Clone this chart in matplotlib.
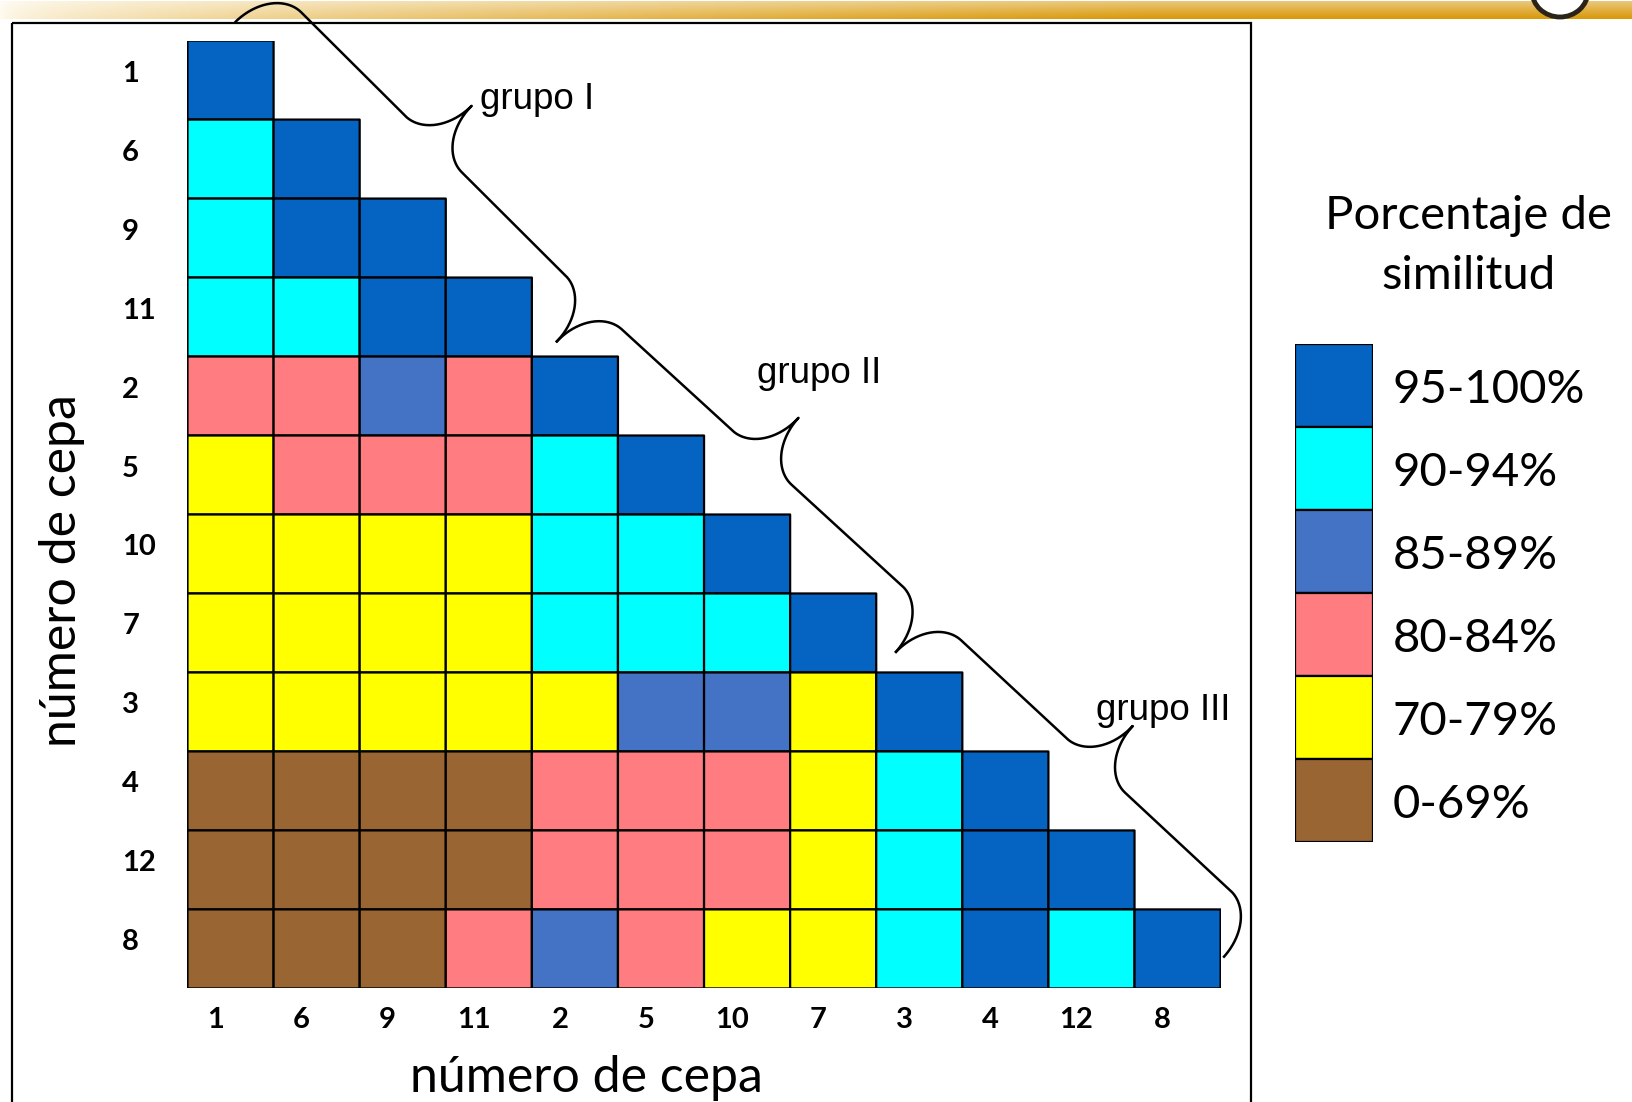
import matplotlib

matplotlib.use("Agg")

import matplotlib.pyplot as plt
import numpy as np
from matplotlib.colors import BoundaryNorm, ListedColormap
from matplotlib.patches import Ellipse, Rectangle
from matplotlib.transforms import ScaledTranslation

# strain order on both axes
strains = ["1", "6", "9", "11", "2", "5", "10", "7", "3", "4", "12", "8"]

# similarity classes, lowest to highest
classes = ["0-69%", "70-79%", "80-84%", "85-89%", "90-94%", "95-100%"]
class_colors = ["#996633", "#FFFF00", "#FF7C80", "#4472C4", "#00FFFF", "#0563C1"]

# class index per cell, lower triangle, one list per row
rows = [
    [5],
    [4, 5],
    [4, 5, 5],
    [4, 4, 5, 5],
    [2, 2, 3, 2, 5],
    [1, 2, 2, 2, 4, 5],
    [1, 1, 1, 1, 4, 4, 5],
    [1, 1, 1, 1, 4, 4, 4, 5],
    [1, 1, 1, 1, 1, 3, 3, 1, 5],
    [0, 0, 0, 0, 2, 2, 2, 1, 4, 5],
    [0, 0, 0, 0, 2, 2, 2, 1, 4, 5, 5],
    [0, 0, 0, 2, 3, 2, 1, 1, 4, 5, 4, 5],
]

# groups along the diagonal: label, first and last strain index
groups = [("grupo I", 0, 3), ("grupo II", 4, 7), ("grupo III", 8, 11)]

W, H = 1633, 1102
fig = plt.figure(figsize=(W / 100, H / 100), dpi=100)
fig.patch.set_facecolor("white")

n = len(strains)
mat = np.full((n, n), np.nan)
for i, r in enumerate(rows):
    mat[i, : len(r)] = r
mat = np.ma.masked_invalid(mat)

cmap = ListedColormap(class_colors)
norm = BoundaryNorm(np.arange(len(classes) + 1) - 0.5, cmap.N)

ax = fig.add_axes([187.5 / W, 1 - 988.4 / H, 1033.1 / W, 947.8 / H])
ax.pcolor(np.arange(n + 1), np.arange(n + 1), mat, cmap=cmap, norm=norm,
          edgecolors="black", linewidth=1.6)
ax.set_xlim(0, n)
ax.set_ylim(n, 0)
for s in ax.spines.values():
    s.set_visible(False)

tick_font = dict(family="Lato", weight="bold", size=21)
ax.set_xticks(np.arange(n) + 0.5)
ax.set_xticklabels(strains, **tick_font)
ax.set_yticks(np.arange(n) + 0.5)
ax.set_yticklabels(strains, ha="left", **tick_font)
ax.tick_params(axis="both", length=0)
ax.tick_params(axis="x", pad=13.5)
ax.tick_params(axis="y", pad=47)
for lbl in ax.get_xticklabels():
    lbl.set_transform(lbl.get_transform() + ScaledTranslation(-0.15, 0, fig.dpi_scale_trans))
for lbl in ax.get_yticklabels():
    lbl.set_transform(lbl.get_transform() + ScaledTranslation(0, 0.09, fig.dpi_scale_trans))

fig.text(586 / W, 1 - 1078 / H, "número de cepa", family="Lato", size=36,
         ha="center", va="center")
fig.text(62.5 / W, 1 - 571 / H, "número de cepa", family="Lato", size=36,
         ha="center", va="center", rotation=90)

# legend column
lax = fig.add_axes([1295 / W, 1 - 842 / H, 78 / W, 498 / H])
codes = np.arange(len(classes))[::-1][:, None]
lax.pcolor(np.arange(2), np.arange(len(classes) + 1), codes, cmap=cmap, norm=norm,
           edgecolors="black", linewidth=1.6)
lax.set_xlim(0, 1)
lax.set_ylim(len(classes), 0)
lax.axis("off")
for i, c in enumerate(codes[:, 0]):
    lax.text(1.25, i + 0.56, classes[c], family="Lato", size=34, ha="left", va="center")
fig.text(1469 / W, 1 - 246 / H, "Porcentaje de\nsimilitud", family="Lato", size=34,
         ha="center", va="center", linespacing=1.55)

# overlay in pixel coordinates for frame, banner and braces
ov = fig.add_axes([0, 0, 1, 1], zorder=5)
ov.axis("off")
ov.patch.set_alpha(0)

xs = np.linspace(0, 1, 500)
t = np.clip(xs / 0.7, 0, 1) ** 0.6
c0 = np.array([1.0, 0.98, 0.93])
c1 = np.array([0.85, 0.60, 0.04])
band = c0 + (c1 - c0) * t[:, None]
shade = np.linspace(0.55, 1.0, 16)[:, None, None]
band2d = np.clip(1 - (1 - band[None, :, :]) * shade, 0, 1)
ov.imshow(band2d, extent=(0, W, 19, 1), aspect="auto", interpolation="bilinear")
ov.add_patch(Ellipse((1560, -9), 56, 52, facecolor="white", edgecolor="#2a2418", lw=3.5))
ov.set_xlim(0, W)
ov.set_ylim(H, 0)

ov.add_patch(Rectangle((12.5, 23), 1251 - 12.5, 1200, fill=False, edgecolor="black", lw=1.6))


def to_px(x, y):
    p = ax.transData.transform((x, y))
    return ov.transData.inverted().transform(p)


def brace(p0, p1, h=54, r=40, npts=60):
    # curly brace from p0 to p1, bulging to the upper right (pixel space, y down)
    p0, p1 = np.asarray(p0), np.asarray(p1)
    d = p1 - p0
    L = np.hypot(*d)
    u = d / L
    nrm = np.array([u[1], -u[0]])
    th = np.linspace(0, np.pi / 2, npts)
    s_end = r - r * np.cos(th)
    y_end = h * np.sin(th)
    s_tip = L / 2 - r + r * np.sin(th)
    y_tip = 2 * h - h * np.cos(th)
    s_half = np.concatenate([s_end, s_tip])
    y_half = np.concatenate([y_end, y_tip])
    s_full = np.concatenate([s_half, L - s_half[::-1]])
    y_full = np.concatenate([y_half, y_half[::-1]])
    pts = p0 + np.outer(s_full, u) + np.outer(y_full, nrm)
    tip = p0 + u * L / 2 + nrm * 2 * h
    return pts, tip


# brace anchor points, as offsets (in cells) from the diagonal corners
brace_start = (0.55, -0.23)
brace_ends = [(0.28, -0.18), (0.22, -0.25), (0.03, -0.39)]
label_offsets = [(8, -6, "left"), (21, -44, "center"), (30, -16, "center")]

p0 = to_px(groups[0][1] + brace_start[0], groups[0][1] + brace_start[1])
for (name, a, b), (ex, ey), (dx, dy, ha) in zip(groups, brace_ends, label_offsets):
    p1 = to_px(b + 1 + ex, b + 1 + ey)
    pts, tip = brace(p0, p1)
    ov.plot(pts[:, 0], pts[:, 1], color="black", lw=1.8, solid_capstyle="butt")
    ov.text(tip[0] + dx, tip[1] + dy, name, family="Liberation Sans", size=26.5,
            ha=ha, va="center")
    p0 = p1

fig.savefig("out.png", dpi=100)
